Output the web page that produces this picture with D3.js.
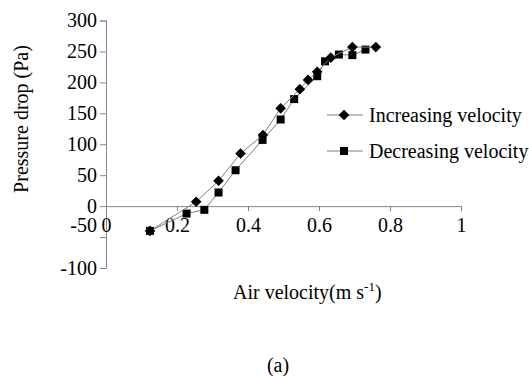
<!DOCTYPE html>
<html lang="en">
  <head>
    <meta charset="utf-8">
    <title>Pressure drop vs air velocity</title>
    <script src="https://d3js.org/d3.v7.min.js"></script>
    <style>
      body { margin: 0; background: #fff; }
      svg { display: block; }
      .axis path, .axis line { stroke: #868686; }
    </style>
  </head>
  <body>
    <script>
      // values
      var incVelocity = [0.124, 0.254, 0.317, 0.379, 0.442, 0.492, 0.546, 0.569, 0.595, 0.633, 0.694, 0.760],
        incPressure = [-40, 7, 41, 85, 115, 158, 189, 204, 217, 240, 257, 257];

      var decVelocity = [0.124, 0.227, 0.277, 0.317, 0.365, 0.441, 0.492, 0.530, 0.595, 0.617, 0.656, 0.694, 0.731],
        decPressure = [-40, -12, -6, 22, 58, 107, 140, 173, 210, 234, 245, 244, 253];

      var xTicks = [0, 0.2, 0.4, 0.6, 0.8, 1],
        yTicks = [-100, -50, 0, 50, 100, 150, 200, 250, 300];

      var seriesNames = ["Increasing velocity", "Decreasing velocity"];

      var outerWidth = 529,
        outerHeight = 376;

      var serif = "'Liberation Serif', 'DejaVu Serif', 'Times New Roman', serif";

      var xScale = d3.scaleLinear().domain([0, 1]).range([106, 461]);
      var yScale = d3.scaleLinear().domain([-100, 300]).range([268, 20.5]);

      var svg = d3.select("body")
        .append("svg")
        .attr("width", outerWidth)
        .attr("height", outerHeight)
        .attr("font-family", serif)
        .attr("font-size", 20);

      // y axis on the left
      var yAxis = svg.append("g")
        .attr("class", "axis")
        .attr("transform", "translate(" + xScale(0) + ",0)")
        .call(d3.axisLeft(yScale)
          .tickValues(yTicks)
          .tickSize(6)
          .tickPadding(3)
          .tickFormat(function(d) { return d; }))
        .attr("font-family", serif)
        .attr("font-size", 20);
      // the -50 label sits level with the x labels in the original
      yAxis.selectAll(".tick text")
        .filter(function(d) { return d === -50; })
        .attr("y", -12);

      // x axis crosses at zero
      var xAxis = svg.append("g")
        .attr("class", "axis")
        .attr("transform", "translate(0," + yScale(0) + ")")
        .call(d3.axisBottom(xScale)
          .tickValues(xTicks)
          .tickSize(5)
          .tickSizeOuter(5)
          .tickPadding(6)
          .tickFormat(function(d) { return d; }))
        .attr("font-family", serif)
        .attr("font-size", 20);
      xAxis.selectAll("text").attr("y", 12);

      var line = d3.line()
        .x(function(d) { return xScale(d[0]); })
        .y(function(d) { return yScale(d[1]); });

      var incData = incVelocity.map(function(v, i) { return [v, incPressure[i]]; });
      var decData = decVelocity.map(function(v, i) { return [v, decPressure[i]]; });

      var diamond = d3.symbol().type(d3.symbolDiamond2).size(72);
      var square = d3.symbol().type(d3.symbolSquare).size(64);

      function drawSeries(data, symbol) {
        svg.append("path")
          .datum(data)
          .attr("d", line)
          .attr("fill", "none")
          .attr("stroke", "#7f7f7f")
          .attr("stroke-width", 1);
        svg.selectAll(null)
          .data(data)
          .enter()
          .append("path")
          .attr("d", symbol)
          .attr("transform", function(d) {
            return "translate(" + xScale(d[0]) + "," + yScale(d[1]) + ")";
          })
          .attr("fill", "#000");
      }

      drawSeries(decData, square);
      drawSeries(incData, diamond);

      // legend
      var legendSymbols = [diamond, square];
      seriesNames.forEach(function(name, i) {
        var ly = 115 + i * 36;
        svg.append("line")
          .attr("x1", 327).attr("x2", 363)
          .attr("y1", ly).attr("y2", ly)
          .attr("stroke", "#7f7f7f");
        svg.append("path")
          .attr("d", legendSymbols[i])
          .attr("transform", "translate(344," + ly + ")")
          .attr("fill", "#000");
        svg.append("text")
          .attr("x", 369)
          .attr("y", ly + 7)
          .text(name);
      });

      // axis titles
      svg.append("text")
        .attr("transform", "translate(28,119) rotate(-90)")
        .attr("text-anchor", "middle")
        .text("Pressure drop (Pa)");

      var xLabel = svg.append("text")
        .attr("x", 233)
        .attr("y", 299);
      xLabel.append("tspan").text("Air velocity(m s");
      xLabel.append("tspan").attr("dy", -8).attr("font-size", 13).text("-1");
      xLabel.append("tspan").attr("dy", 8).text(")");

      svg.append("text")
        .attr("x", 278)
        .attr("y", 372)
        .attr("text-anchor", "middle")
        .text("(a)");
    </script>
  </body>
</html>
